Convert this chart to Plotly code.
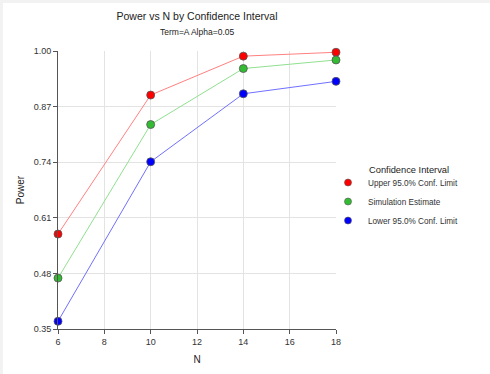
import plotly.graph_objects as go

n_values = [6, 10, 14, 18]
upper = [0.572, 0.897, 0.988, 0.997]
estimate = [0.469, 0.828, 0.959, 0.979]
lower = [0.368, 0.741, 0.900, 0.929]
series_names = ["Upper 95.0% Conf. Limit", "Simulation Estimate", "Lower 95.0% Conf. Limit"]
y_ticks = [0.35, 0.48, 0.61, 0.74, 0.87, 1.00]
x_ticks = [6, 8, 10, 12, 14, 16, 18]

marker_colors = ["#ff0000", "#33bb33", "#0000ff"]
line_colors = ["#ff8080", "#90e090", "#7070ff"]

fig = go.Figure()
for name, vals, mc, lc in zip(series_names, [upper, estimate, lower], marker_colors, line_colors):
    fig.add_trace(go.Scatter(
        x=n_values, y=vals, mode="lines+markers", name=name,
        line=dict(color=lc, width=1),
        marker=dict(color=mc, size=8, line=dict(color="#555555", width=0.8)),
        cliponaxis=False, showlegend=False,
    ))
# legend-only entries (dots only, as in the reference)
for name, mc in zip(series_names, marker_colors):
    fig.add_trace(go.Scatter(
        x=[None], y=[None], mode="markers", name=name,
        marker=dict(color=mc, size=7, line=dict(color="#555555", width=0.6)),
        showlegend=True,
    ))

font = "Liberation Sans, Arial, sans-serif"
strip = "#f2f2f2"
fig.update_layout(
    width=490, height=374,
    margin=dict(l=58, r=154, t=51, b=45, autoexpand=False),
    paper_bgcolor="white",
    plot_bgcolor="white",
    font=dict(family=font, size=9, color="#333333"),
    title=dict(
        text="Power vs N by Confidence Interval",
        x=(58 + 278 / 2) / 490, xanchor="center",
        y=1 - 16 / 374, yanchor="middle", yref="container",
        font=dict(size=10.5, color="#222222"),
    ),
    annotations=[
        dict(text="Term=A Alpha=0.05", xref="paper", yref="paper",
             x=0.5, y=(329 - 32) / 278, xanchor="center", yanchor="middle",
             showarrow=False, font=dict(size=8.5, color="#222222")),
        dict(text="Confidence Interval", xref="paper", yref="paper",
             x=(367 - 58) / 278, y=(329 - 170) / 278, xanchor="left", yanchor="middle",
             showarrow=False, font=dict(size=9.3, color="#222222")),
    ],
    showlegend=True,
    legend=dict(
        xref="container", yref="container",
        x=328 / 490, xanchor="left", y=1 - 168 / 374, yanchor="top",
        font=dict(size=8.2, color="#333333"),
        bgcolor="rgba(0,0,0,0)",
        tracegroupgap=0,
    ),
    shapes=[
        dict(type="rect", xref="paper", yref="paper",
             x0=(0 - 58) / 278, x1=(490 - 58) / 278,
             y0=(329 - 3) / 278, y1=(329 - 0) / 278,
             fillcolor=strip, line=dict(width=0), layer="below"),
        dict(type="rect", xref="paper", yref="paper",
             x0=(0 - 58) / 278, x1=(3 - 58) / 278,
             y0=(329 - 374) / 278, y1=(329 - 0) / 278,
             fillcolor=strip, line=dict(width=0), layer="below"),
    ],
)
fig.update_xaxes(
    range=[6, 18], tickvals=x_ticks, ticktext=[str(v) for v in x_ticks],
    showline=True, linecolor="#555555", linewidth=1,
    ticks="outside", ticklen=4, tickcolor="#555555",
    showgrid=True, gridcolor="#e3e3e3", zeroline=False, automargin=False,
    title=dict(text="N", font=dict(size=10, color="#222222"), standoff=10),
    tickfont=dict(size=9, color="#333333"),
)
fig.update_yaxes(
    range=[0.35, 1.00], tickvals=y_ticks, ticktext=[f"{v:.2f}" for v in y_ticks],
    showline=True, linecolor="#555555", linewidth=1,
    ticks="outside", ticklen=4, tickcolor="#555555",
    showgrid=True, gridcolor="#e3e3e3", zeroline=False, automargin=False,
    title=dict(text="Power", font=dict(size=10, color="#222222"), standoff=7),
    tickfont=dict(size=9, color="#333333"),
)

fig.write_html("out.html")
